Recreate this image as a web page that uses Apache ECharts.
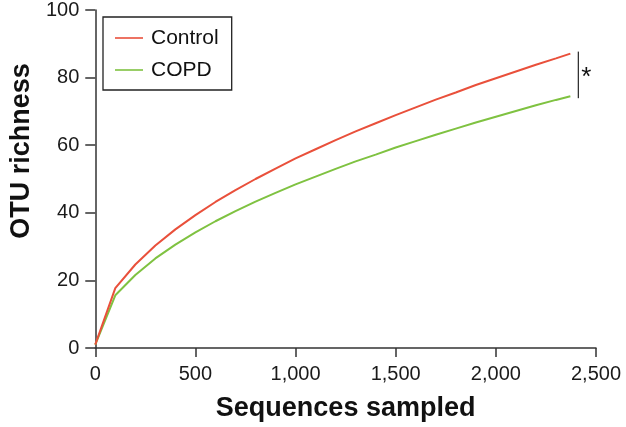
<!DOCTYPE html>
<html>
<head>
<meta charset="utf-8">
<script src="https://cdn.jsdelivr.net/npm/echarts@6/dist/echarts.min.js"></script>
<style>
html,body{margin:0;padding:0;background:#fff;}
#chart{width:626px;height:427px;}
</style>
</head>
<body>
<div id="chart"></div>
<script>
// Sequences sampled (x)
const sequences = [0, 100, 200, 300, 400, 500, 600, 700, 800, 900, 1000, 1100, 1200, 1300, 1400, 1500, 1600, 1700, 1800, 1900, 2000, 2100, 2200, 2300, 2372];
// OTU richness, Control
const controlValues = [1.0, 17.7, 24.7, 30.3, 35.1, 39.3, 43.2, 46.7, 50.0, 53.1, 56.1, 58.8, 61.5, 64.1, 66.5, 68.9, 71.2, 73.5, 75.6, 77.8, 79.8, 81.8, 83.8, 85.7, 87.1];
// OTU richness, COPD
const copdValues = [1.0, 15.6, 21.6, 26.5, 30.6, 34.2, 37.5, 40.5, 43.3, 45.9, 48.4, 50.7, 53.0, 55.2, 57.2, 59.3, 61.2, 63.1, 64.9, 66.7, 68.4, 70.1, 71.8, 73.4, 74.5];
const seriesNames = ['Control', 'COPD'];
const xTicks = [0, 500, 1000, 1500, 2000, 2500];
const yTicks = [0, 20, 40, 60, 80, 100];
const xTitle = 'Sequences sampled';
const yTitle = 'OTU richness';
const sigLabel = '*';

const FONT = 'Liberation Sans, Arial, Helvetica, sans-serif';
const AXIS_COLOR = '#333';
const RED = '#e9503b';
const GREEN = '#7fc241';

const chart = echarts.init(document.getElementById('chart'), null, {renderer: 'canvas'});

function pairs(xs, ys) { return xs.map((x, i) => [x, ys[i]]); }

const option = {
  backgroundColor: '#fff',
  animation: false,
  grid: {left: 88, top: 10, right: 30, bottom: 77, containLabel: false},
  legend: {
    left: 103, top: 17, orient: 'vertical',
    data: seriesNames.map(n => ({name: n, icon: 'rect'})),
    itemWidth: 28, itemHeight: 1.6, itemGap: 8,
    padding: [9, 13, 8, 12],
    borderColor: '#222', borderWidth: 1.3,
    textStyle: {fontFamily: FONT, fontSize: 21, lineHeight: 24, color: '#111', padding: [0, 0, 0, 3]}
  },
  xAxis: {
    type: 'value', min: xTicks[0], max: xTicks[xTicks.length - 1], interval: 500,
    name: xTitle, nameLocation: 'middle', nameGap: 47,
    nameTextStyle: {fontFamily: FONT, fontSize: 27, fontWeight: 'bold', color: '#111'},
    axisLine: {show: true, lineStyle: {color: AXIS_COLOR, width: 1.5}},
    axisTick: {show: true, length: 9, lineStyle: {color: AXIS_COLOR, width: 1.5}},
    axisLabel: {fontFamily: FONT, fontSize: 20, color: '#1a1a1a', margin: 16,
      formatter: v => v.toLocaleString('en-US')},
    splitLine: {show: false}
  },
  yAxis: {
    type: 'value', min: yTicks[0], max: yTicks[yTicks.length - 1], interval: 20,
    name: yTitle, nameLocation: 'middle', nameGap: 60,
    nameTextStyle: {fontFamily: FONT, fontSize: 27, fontWeight: 'bold', color: '#111', padding: [0, 0, 0, 56]},
    axisLine: {show: true, lineStyle: {color: AXIS_COLOR, width: 1.5}},
    axisTick: {show: true, length: 10, lineStyle: {color: AXIS_COLOR, width: 1.5}},
    axisLabel: {fontFamily: FONT, fontSize: 20, color: '#1a1a1a', margin: 16},
    splitLine: {show: false}
  },
  series: [
    {name: seriesNames[0], type: 'line', data: pairs(sequences, controlValues), symbol: 'none',
     lineStyle: {color: RED, width: 2}, itemStyle: {color: RED}, z: 3},
    {name: seriesNames[1], type: 'line', data: pairs(sequences, copdValues), symbol: 'none',
     lineStyle: {color: GREEN, width: 2}, itemStyle: {color: GREEN}, z: 2}
  ]
};
chart.setOption(option);

// significance bracket anchored to the curves' end points
const lastX = sequences[sequences.length - 1];
const pTop = chart.convertToPixel({gridIndex: 0}, [lastX, controlValues[controlValues.length - 1]]);
const pBot = chart.convertToPixel({gridIndex: 0}, [lastX, copdValues[copdValues.length - 1]]);
const bx = pTop[0] + 8;
chart.setOption({
  graphic: [
    {type: 'line', shape: {x1: bx, y1: pTop[1] - 2, x2: bx, y2: pBot[1] + 2},
     style: {stroke: '#333', lineWidth: 1.3}},
    {type: 'text', x: bx + 3, y: (pTop[1] + pBot[1]) / 2 + 3,
     style: {text: sigLabel, fontFamily: FONT, fontSize: 26, fill: '#111', verticalAlign: 'middle', align: 'left'}}
  ]
});
</script>
</body>
</html>
